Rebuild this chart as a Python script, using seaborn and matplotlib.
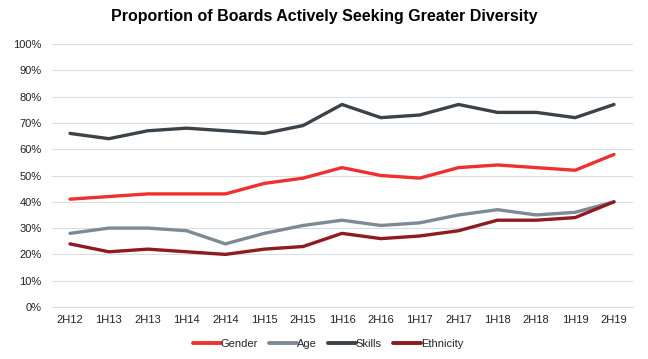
import matplotlib
matplotlib.use("Agg")
import matplotlib.pyplot as plt
import seaborn as sns
import pandas as pd

periods = ["2H12", "1H13", "2H13", "1H14", "2H14", "1H15", "2H15", "1H16",
           "2H16", "1H17", "2H17", "1H18", "2H18", "1H19", "2H19"]
gender = [41, 42, 43, 43, 43, 47, 49, 53, 50, 49, 53, 54, 53, 52, 58]
age = [28, 30, 30, 29, 24, 28, 31, 33, 31, 32, 35, 37, 35, 36, 40]
skills = [66, 64, 67, 68, 67, 66, 69, 77, 72, 73, 77, 74, 74, 72, 77]
ethnicity = [24, 21, 22, 21, 20, 22, 23, 28, 26, 27, 29, 33, 33, 34, 40]

series_names = ["Gender", "Age", "Skills", "Ethnicity"]
colors = ["#EE3130", "#7D8A95", "#3B4248", "#8E1B1F"]

df = pd.DataFrame({"Period": periods, "Gender": gender, "Age": age,
                   "Skills": skills, "Ethnicity": ethnicity})
long = df.melt(id_vars="Period", var_name="Series", value_name="Value")
long["x"] = long["Period"].map({p: i for i, p in enumerate(periods)})

sns.set_theme(style="white")
plt.rcParams["font.family"] = ["Liberation Sans", "DejaVu Sans"]

fig = plt.figure(figsize=(6.48, 3.59), dpi=100)
ax = fig.add_axes([52/648, 52/359, 581/648, 263/359])

sns.lineplot(data=long, x="x", y="Value", hue="Series", hue_order=series_names,
             palette=colors, linewidth=2.4, ax=ax, legend=True)

ax.set_ylim(0, 100)
ax.set_xlim(-0.463, 14.489)
ax.set_yticks(range(0, 101, 10))
ax.set_yticklabels([f"{v}%" for v in range(0, 101, 10)], fontsize=8, color="#222222")
ax.set_xticks(range(len(periods)))
ax.set_xticklabels(periods, fontsize=8, color="#222222")
ax.tick_params(axis="x", length=0, pad=6)
ax.tick_params(axis="y", length=0, pad=7.5)
ax.grid(axis="y", color="#D9DCE1", linewidth=0.8)
ax.set_axisbelow(True)
for s in ["left", "right", "top"]:
    ax.spines[s].set_visible(False)
ax.spines["bottom"].set_color("#D9DCE1")
ax.spines["bottom"].set_linewidth(0.8)
ax.set_xlabel("")
ax.set_ylabel("")

handles, labels = ax.get_legend_handles_labels()
for h in handles:
    h.set_linewidth(2.8)
ax.get_legend().remove()
fig.legend(handles, labels, loc="center", bbox_to_anchor=(328/648, 1 - 344/359),
           ncol=4, frameon=False, fontsize=8, handlelength=2.5,
           handletextpad=0.0, columnspacing=1.0)

fig.text(0.5, 1 - 17/359, "Proportion of Boards Actively Seeking Greater Diversity",
         ha="center", va="center", fontsize=11.5, fontweight="bold", color="black")

fig.savefig("out.png", dpi=100, facecolor="white")
